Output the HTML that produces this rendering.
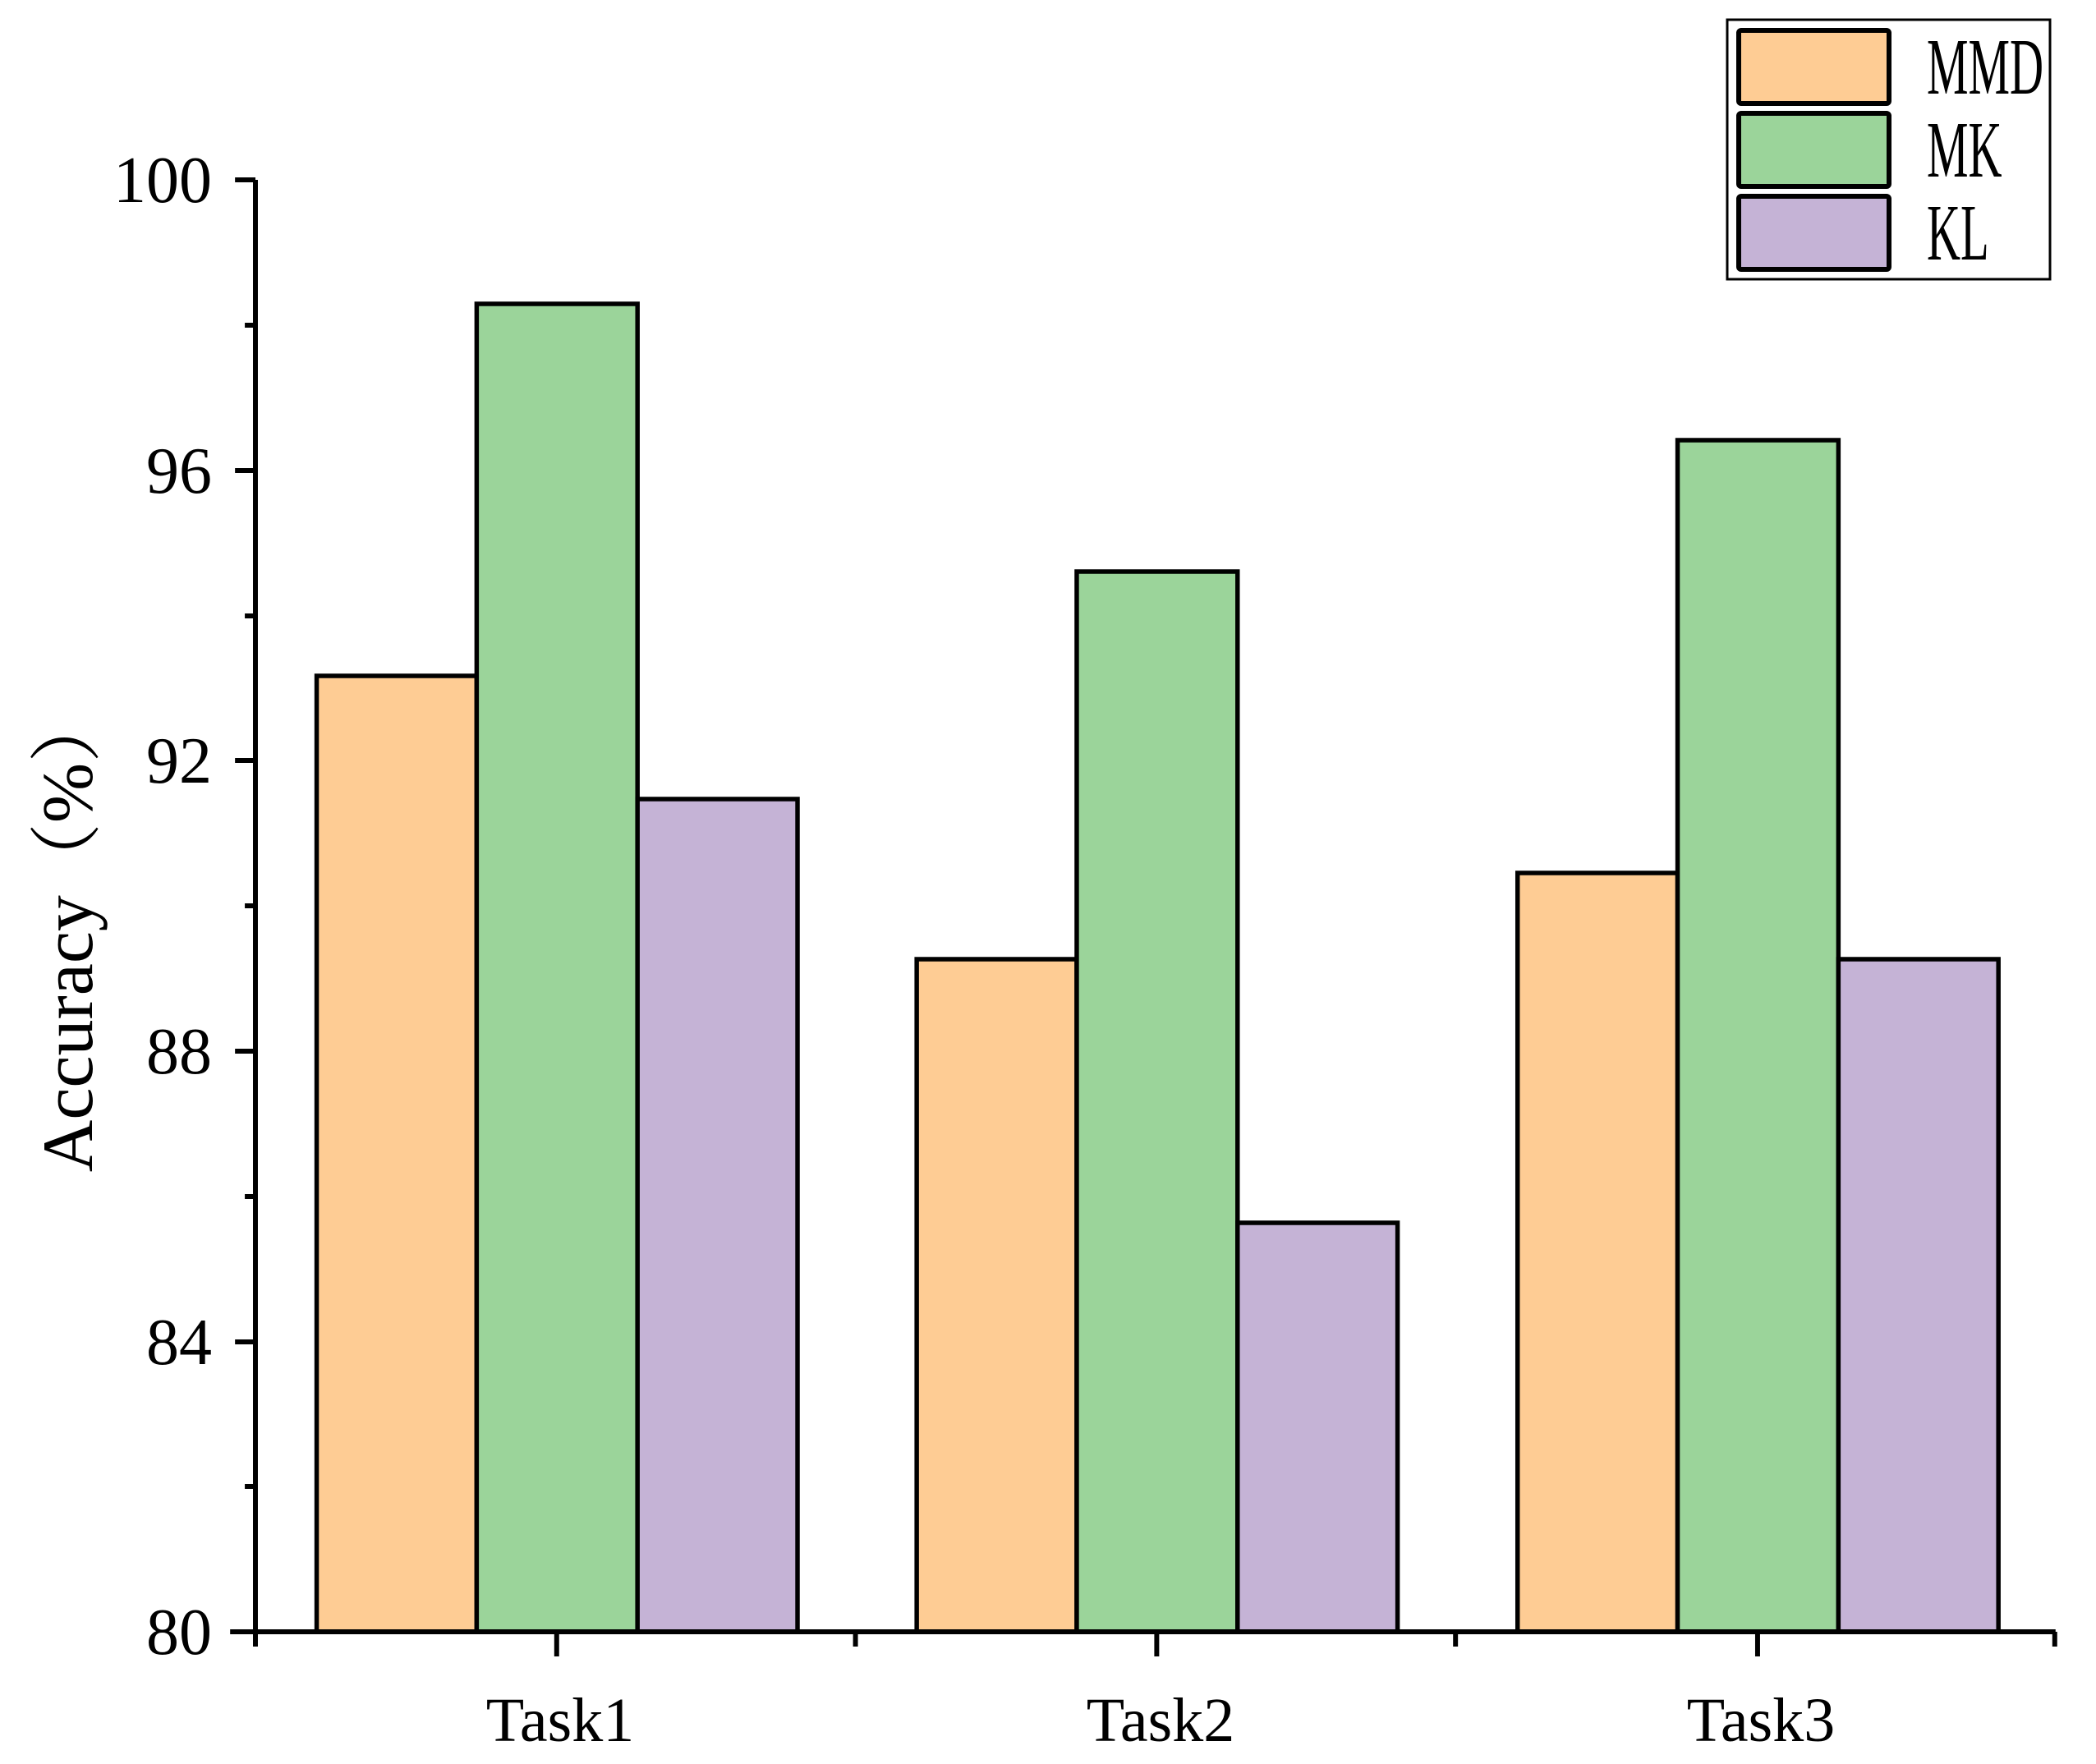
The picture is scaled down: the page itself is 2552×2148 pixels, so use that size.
<!DOCTYPE html><html><head><meta charset="utf-8"><style>body{margin:0;background:#fff}</style></head><body>
<svg width="2552" height="2143" xmlns="http://www.w3.org/2000/svg" font-family="Liberation Serif, serif">
<g transform="translate(311 0) scale(0.994 1) translate(-311 0)">
<g stroke="#000" stroke-width="5.5">
<rect x="386" y="823" width="196" height="1164" fill="#FECC94"/>
<rect x="582" y="370" width="197" height="1617" fill="#9BD49A"/>
<rect x="779" y="973" width="196" height="1014" fill="#C5B3D6"/>
<rect x="1121" y="1168" width="196" height="819" fill="#FECC94"/>
<rect x="1317" y="696" width="197" height="1291" fill="#9BD49A"/>
<rect x="1514" y="1489" width="196" height="498" fill="#C5B3D6"/>
<rect x="1857" y="1063" width="196" height="924" fill="#FECC94"/>
<rect x="2053" y="536" width="197" height="1451" fill="#9BD49A"/>
<rect x="2250" y="1168" width="196" height="819" fill="#C5B3D6"/>
</g>
<g stroke="#000" stroke-width="6" fill="none">
<path d="M311 219 V1990 M280 1987 H2516"/>
<path d="M311 219h-25 M311 396h-13 M311 573h-25 M311 750h-13 M311 926h-25 M311 1103h-13 M311 1280h-25 M311 1457h-13 M311 1634h-25 M311 1810h-13 M311 1987h-25"/>
<path d="M311 1987v18 M1046 1987v18 M1781 1987v18 M2515 1987v18 M680 1987v30 M1415 1987v30 M2151 1987v30"/>
</g>
</g>
<g font-size="80" text-anchor="end">
<text x="258" y="246">100</text>
<text x="258" y="600">96</text>
<text x="258" y="953">92</text>
<text x="258" y="1307">88</text>
<text x="258" y="1661">84</text>
<text x="258" y="2014">80</text>
</g>
<g font-size="76" text-anchor="middle">
<text x="682" y="2120">Task1</text>
<text x="1413" y="2120">Task2</text>
<text x="2144" y="2120">Task3</text>
</g>
<text transform="translate(112 1134) rotate(-90)" font-size="88" text-anchor="middle" font-family="Liberation Serif, Noto Serif CJK SC, serif">Accuracy（%）</text>
<rect x="2103" y="24" width="393" height="316" fill="#fff" stroke="#000" stroke-width="3"/>
<g stroke="#000" stroke-width="6">
<rect x="2117" y="37" width="183" height="89" rx="3" fill="#FECC94"/>
<rect x="2117" y="138" width="183" height="89" rx="3" fill="#9BD49A"/>
<rect x="2117" y="239" width="183" height="89" rx="3" fill="#C5B3D6"/>
</g>
<g font-size="98">
<text x="2346" y="114" transform="translate(2346 0) scale(0.58 1) translate(-2346 0)">MMD</text>
<text x="2346" y="215" transform="translate(2346 0) scale(0.58 1) translate(-2346 0)">MK</text>
<text x="2346" y="316" transform="translate(2346 0) scale(0.58 1) translate(-2346 0)">KL</text>
</g>
</svg></body></html>
